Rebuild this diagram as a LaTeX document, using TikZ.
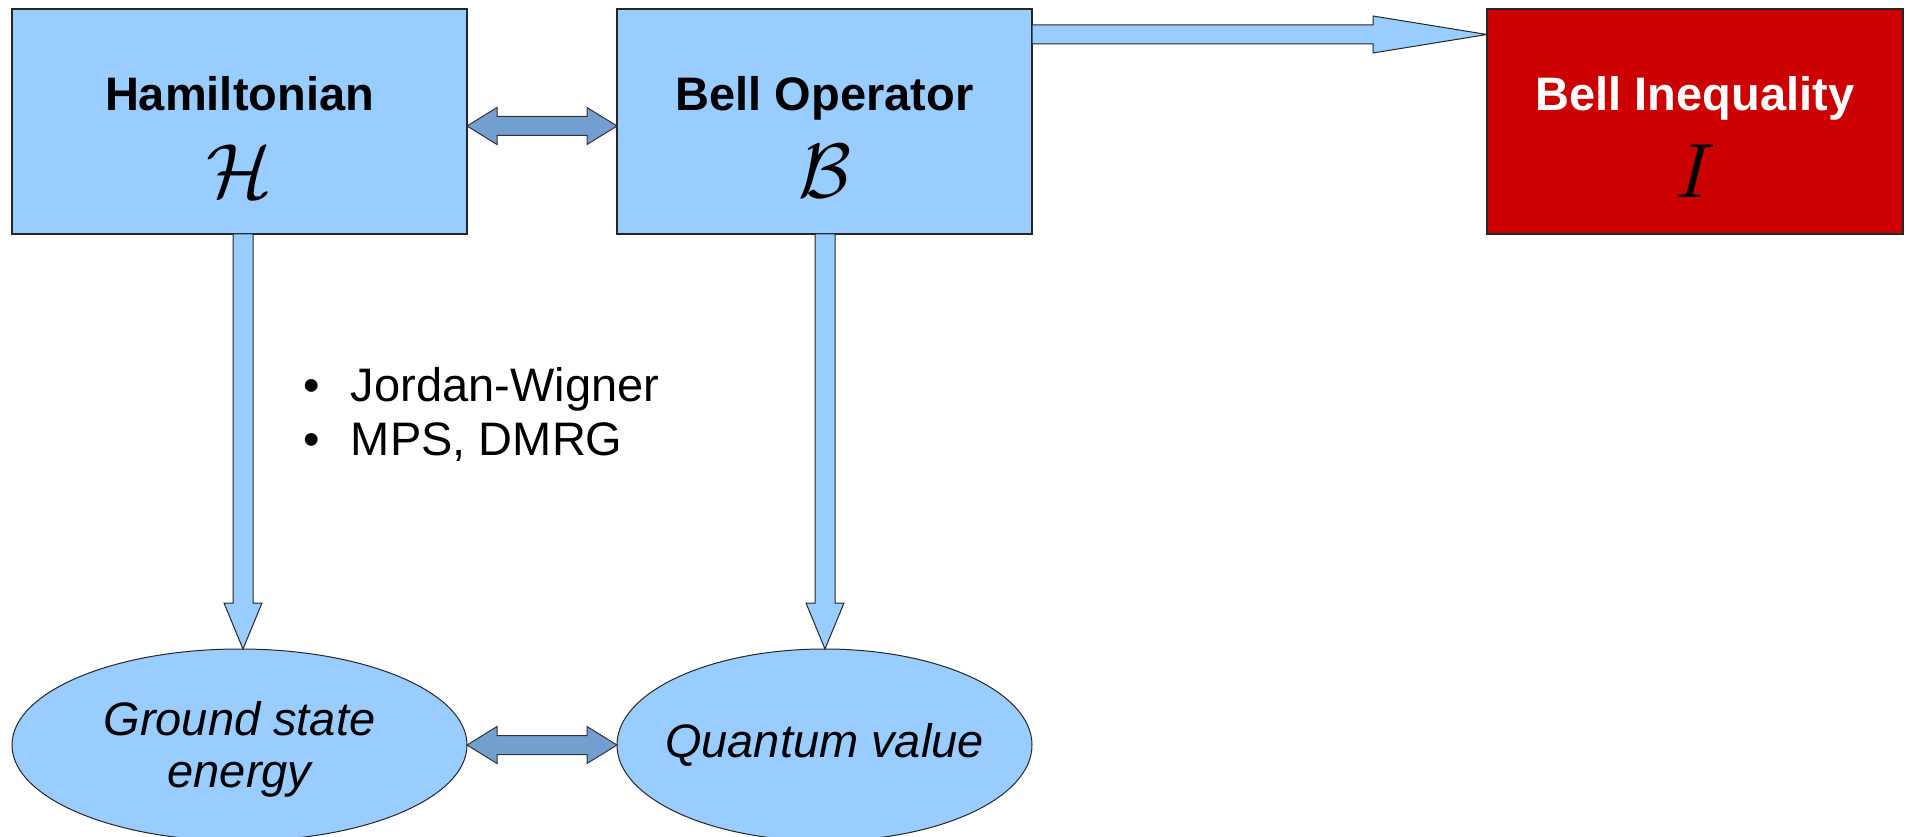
\documentclass[tikz,border=0pt]{standalone}
\usepackage{fontspec}
\setmainfont{Liberation Sans}
\usetikzlibrary{calc,shapes.geometric}

\definecolor{boxblue}{HTML}{99CCFF}
\definecolor{linkblue}{HTML}{729FCF}
\definecolor{inkred}{HTML}{CC0000}

\tikzset{
  every node/.style={inner sep=0pt, outer sep=0pt},
  block/.style={rectangle, draw=black!85, line width=1.2pt, fill=boxblue, minimum height=225pt},
  redblock/.style={block, fill=inkred},
  blob/.style={ellipse, draw=black!85, line width=1pt, fill=boxblue,
    minimum width=455pt, minimum height=192pt},
  blobtext/.style={font=\fontsize{47}{52}\selectfont\itshape, align=center},
  title/.style={font=\fontsize{47}{54}\selectfont\bfseries, anchor=base},
  symb/.style={scale=7.7, anchor=base},
  listtext/.style={font=\fontsize{47}{54}\selectfont, anchor=base west},
  fatarrow/.style={draw=black!85, line width=1pt, fill=boxblue},
  twoway/.style={draw=black!80, line width=1pt, fill=linkblue},
}

% vertical block arrow from #1 (top) down to the tip #2
\newcommand\downblock[2]{%
  \draw[fatarrow] ($(#1)+(-10,0)$) -- ($(#2)+(-10,-46)$) -- ($(#2)+(-19,-46)$)
    -- (#2) -- ($(#2)+(19,-46)$) -- ($(#2)+(10,-46)$) -- ($(#1)+(10,0)$) -- cycle;}

% horizontal two-headed block arrow between the tips #1 (left) and #2 (right)
\newcommand\twowayblock[2]{%
  \draw[twoway] (#1) -- ++(30,-18.5) -- ++(0,9) -- ($(#2)+(-30,-9.5)$) -- ++(0,-9)
    -- (#2) -- ++(-30,18.5) -- ++(0,-9) -- ($(#1)+(30,9.5)$) -- ++(0,9) -- cycle;}

\begin{document}
\begin{tikzpicture}[x=1pt, y=-1pt]
\useasboundingbox (0,0) rectangle (1909,837);

% boxes
\node[block, minimum width=455pt] (ham) at (239.5,121.5) {};
\node[block, minimum width=415pt] (bop) at (824.5,121.5) {};
\node[redblock, minimum width=416pt] (bin) at (1695,121.5) {};

\node[title] (hamt) at ($(ham.north)+(0,102)$) {Hamiltonian};
\node[symb] (hams) at ($(ham.north)+(0,189)$) {$\mathcal{H}$};
\node[title] (bopt) at ($(bop.north)+(0,102)$) {Bell Operator};
\node[symb] (bops) at ($(bop.north)+(0,189)$) {$\mathcal{B}$};
\node[title, text=white] (bint) at ($(bin.north)+(0,102)$) {Bell Inequality};
\node[symb] (bins) at ($(bin.north)+(0,189)$) {$I$};

% results
\node[blob, label={[blobtext, yshift=-4pt]center:Ground state\\energy}] (gse) at (239.5,745) {};
\node[blob, minimum width=415pt, label={[blobtext]center:Quantum value}] (qv) at (824.5,745) {};

% methods
\node[listtext] (jw) at (303,401) {\makebox[48pt][l]{\textbullet}Jordan-Wigner};
\node[listtext] (mps) at (303,455) {\makebox[48pt][l]{\textbullet}MPS, DMRG};

% connectors
\coordinate (hr) at ($(ham.east)+(0,4.5)$);
\coordinate (bl) at ($(bop.west)+(0,4.5)$);
\twowayblock{hr}{bl}

\coordinate (gr) at (gse.east);
\coordinate (ql) at (qv.west);
\twowayblock{gr}{ql}

\coordinate (v1s) at ($(ham.south)+(3.5,0)$);
\coordinate (v1t) at ($(gse.north)+(3.5,0)$);
\downblock{v1s}{v1t}

\coordinate (v2s) at ($(bop.south)+(0.5,0)$);
\coordinate (v2t) at ($(qv.north)+(0.5,0)$);
\downblock{v2s}{v2t}

\coordinate (bs) at ($(bop.north east)+(0,25.5)$);
\coordinate (it) at ($(bin.north west)+(0,25.5)$);
\draw[fatarrow] ($(bs)+(0,-9.5)$) -- ($(it)+(-114,-9.5)$) -- ($(it)+(-114,-18.5)$)
  -- (it) -- ($(it)+(-114,18.5)$) -- ($(it)+(-114,9.5)$) -- ($(bs)+(0,9.5)$) -- cycle;
\end{tikzpicture}
\end{document}
